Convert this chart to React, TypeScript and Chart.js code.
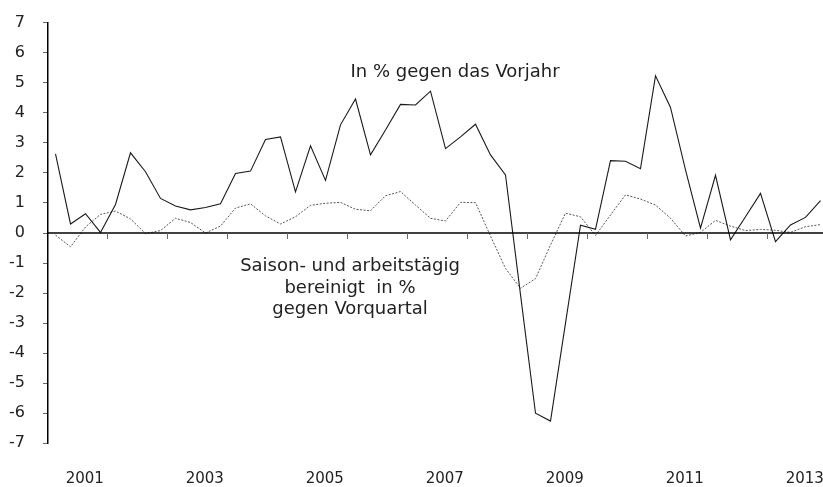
import React, { useEffect, useRef } from "react";
import { Chart, registerables } from "chart.js";

Chart.register(...registerables);

// Quarterly data 2001Q1 .. 2013Q4
const yoyValues = [
  2.63, 0.30, 0.64, 0.02, 0.95, 2.67, 2.04, 1.15, 0.90, 0.77, 0.85, 0.97,
  1.98, 2.06, 3.11, 3.20, 1.37, 2.90, 1.75, 3.60, 4.46, 2.60, 3.43, 4.28,
  4.26, 4.72, 2.81, 3.20, 3.62, 2.60, 1.93, -2.05, -6.00, -6.26, -3.00, 0.26,
  0.12, 2.41, 2.39, 2.14, 5.23, 4.18, 2.10, 0.16, 1.92, -0.23, 0.54, 1.32,
  -0.29, 0.27, 0.52, 1.08,
];

const qoqValues = [
  -0.07, -0.46, 0.20, 0.62, 0.73, 0.47, -0.02, 0.08, 0.49, 0.35, 0.00, 0.23,
  0.83, 0.97, 0.57, 0.30, 0.54, 0.92, 0.99, 1.02, 0.79, 0.74, 1.24, 1.38,
  0.93, 0.49, 0.40, 1.02, 1.01, -0.10, -1.18, -1.84, -1.52, -0.40, 0.66, 0.54,
  -0.08, 0.60, 1.27, 1.13, 0.93, 0.49, -0.10, 0.02, 0.42, 0.23, 0.08, 0.12,
  0.09, 0.02, 0.21, 0.28,
];

const yearLabels = ["2001", "2003", "2005", "2007", "2009", "2011", "2013"];
const yTicks = [-7, -6, -5, -4, -3, -2, -1, 0, 1, 2, 3, 4, 5, 6, 7];

const labelYoY = "In % gegen das Vorjahr";
const labelQoQ = ["Saison- und arbeitstägig", "bereinigt  in %", "gegen Vorquartal"];

const FONT = "'DejaVu Sans', sans-serif";

export default function App() {
  const ref = useRef<HTMLCanvasElement | null>(null);

  useEffect(() => {
    const canvas = ref.current;
    if (!canvas) return;

    const toPoints = (arr: number[]) => arr.map((v, i) => ({ x: i + 0.5, y: v }));

    const overlay = {
      id: "overlay",
      afterDraw(chart: any) {
        const { ctx, chartArea, scales } = chart;
        const y0 = scales.y.getPixelForValue(0);
        ctx.save();
        // zero line
        ctx.strokeStyle = "#000";
        ctx.lineWidth = 1.5;
        ctx.beginPath();
        ctx.moveTo(chartArea.left, y0);
        ctx.lineTo(chartArea.right, y0);
        ctx.stroke();
        // year boundary ticks
        ctx.strokeStyle = "#666";
        ctx.lineWidth = 1;
        for (let q = 4; q < 52; q += 4) {
          const x = Math.round(scales.x.getPixelForValue(q)) - 0.5;
          ctx.beginPath();
          ctx.moveTo(x, y0);
          ctx.lineTo(x, y0 + 6);
          ctx.stroke();
        }
        // annotations
        ctx.fillStyle = "#222";
        ctx.font = "18px " + FONT;
        ctx.textAlign = "center";
        ctx.textBaseline = "alphabetic";
        ctx.fillText(labelYoY, 455, 77);
        const baselines = [271, 292.5, 314];
        labelQoQ.forEach((t, i) => ctx.fillText(t, 350, baselines[i]));
        ctx.restore();
      },
    };

    const chart = new Chart(canvas, {
      type: "line",
      data: {
        datasets: [
          {
            label: labelYoY,
            data: toPoints(yoyValues),
            borderColor: "#1a1a1a",
            borderWidth: 1.1,
            pointRadius: 0,
            tension: 0,
            fill: false,
          },
          {
            label: labelQoQ.join(" "),
            data: toPoints(qoqValues),
            borderColor: "#555",
            borderWidth: 1,
            borderDash: [2, 1.5],
            pointRadius: 0,
            tension: 0,
            fill: false,
          },
        ],
      },
      options: {
        animation: false,
        responsive: false,
        devicePixelRatio: 1,
        layout: { padding: { top: 22.7, left: 0, right: 0, bottom: 0 } },
        plugins: {
          legend: { display: false },
          tooltip: { enabled: false },
        },
        scales: {
          x: {
            type: "linear",
            min: 0,
            max: 775 / 15,
            grid: { display: false, drawTicks: false },
            border: { display: false },
            ticks: {
              autoSkip: false,
              maxRotation: 0,
              minRotation: 0,
              padding: 27,
              color: "#222",
              font: { family: FONT, size: 15 },
              callback: (_v: any, i: number) => yearLabels[i],
            },
            afterBuildTicks: (s: any) => {
              s.ticks = yearLabels.map((_, i) => ({ value: 2.45 + 8 * i }));
            },
            afterFit: (s: any) => {
              s.height = 43.7;
              s.paddingLeft = 0;
              s.paddingRight = 0;
            },
          },
          y: {
            type: "linear",
            min: -7,
            max: 7,
            grid: {
              display: true,
              drawOnChartArea: false,
              drawTicks: true,
              tickLength: 5,
              color: "#666",
              lineWidth: 1,
            },
            border: { display: true, color: "#000", width: 1.5 },
            ticks: {
              stepSize: 1,
              padding: 18,
              color: "#222",
              font: { family: FONT, size: 16 },
            },
            afterBuildTicks: (s: any) => {
              s.ticks = yTicks.map((v) => ({ value: v }));
            },
            afterFit: (s: any) => {
              s.width = 48;
              s.paddingTop = 0;
              s.paddingBottom = 0;
            },
          },
        },
      },
      plugins: [overlay],
    } as any);

    return () => chart.destroy();
  }, []);

  return (
    <div style={{ position: "absolute", left: 0, top: 0, width: 823, height: 487 }}>
      <canvas ref={ref} width={823} height={487} style={{ display: "block" }} />
    </div>
  );
}
